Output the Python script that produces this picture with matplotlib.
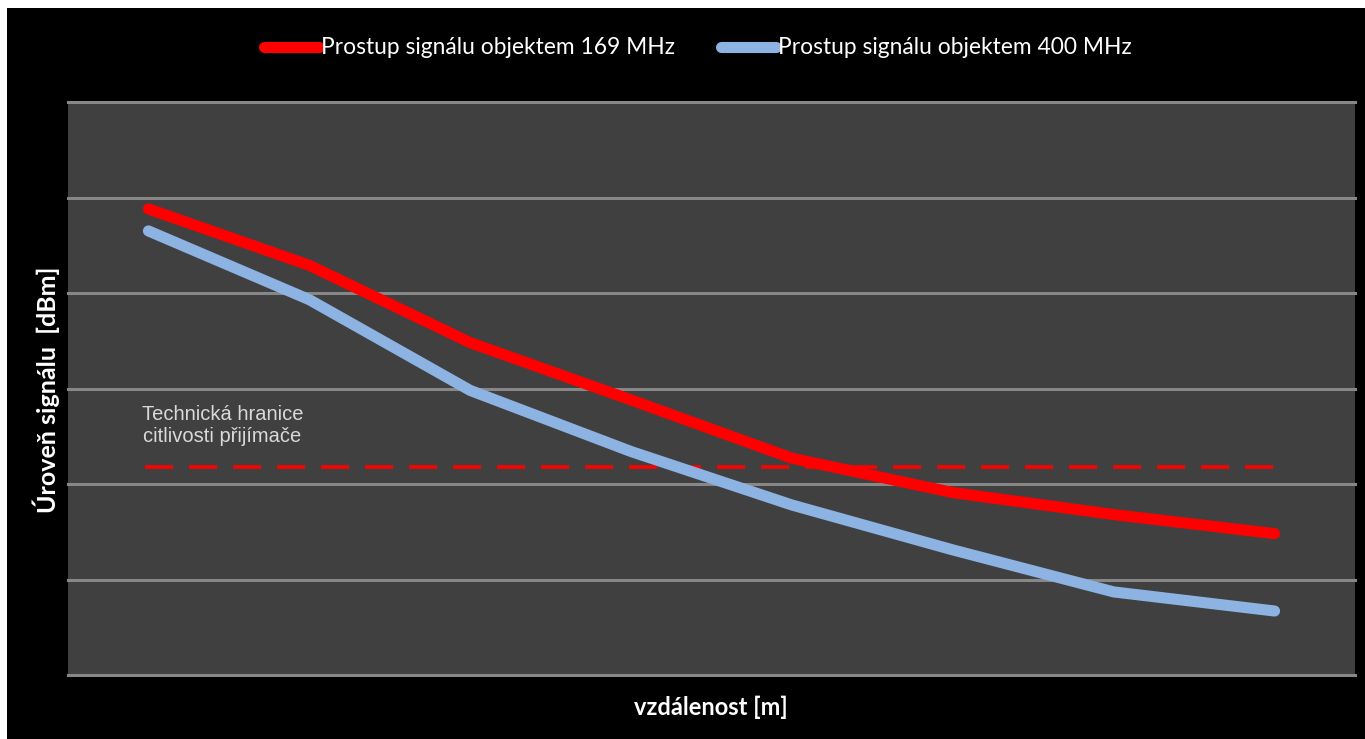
#!/usr/bin/env python3
"""Prostup signálu objektem - úroveň signálu vs. vzdálenost."""
import matplotlib
matplotlib.use("Agg")
import matplotlib.pyplot as plt
from matplotlib.patches import Rectangle

# vzdálenost (osa x nemá popisky, jen pořadí bodů)
vzdalenost = [1, 2, 3, 4, 5, 6, 7, 8]
signal_169 = [-71.2, -77.1, -85.2, -91.2, -97.3, -100.9, -103.2, -105.2]
signal_400 = [-73.5, -80.7, -90.2, -96.6, -102.2, -106.9, -111.3, -113.3]
hranice = -98.2
mrizka = [-120, -110, -100, -90, -80, -70, -60]

W, H = 1365, 739
fig = plt.figure(figsize=(W / 100, H / 100), dpi=100, facecolor="white")
fig.patches.append(Rectangle((7 / W, 0), 1 - 7 / W, (H - 8) / H,
                             transform=fig.transFigure, facecolor="black",
                             edgecolor="none", zorder=-10))

ax = fig.add_axes([68 / W, (H - 675) / H, (1355 - 68) / W, (675 - 102) / H])
ax.set_facecolor("#404040")
for s in ax.spines.values():
    s.set_visible(False)
ax.set_xlim(0.5, 8.5)
ax.set_ylim(-120, -60)
ax.set_xticks([])
ax.set_yticks([])

for g in mrizka:
    ax.axhline(g, color="#878787", lw=2.2, clip_on=False, zorder=1)

ax.hlines(hranice, 0.98, 8.07, colors="#ff0000", lw=2.6,
          linestyles=(0, (28 / 2.6 * 0.72, 16 / 2.6 * 0.72)), zorder=2)

l1, = ax.plot(vzdalenost, signal_169, color="#ff0000", lw=8,
              solid_capstyle="round", solid_joinstyle="round", zorder=4,
              label="Prostup signálu objektem 169 MHz")
l2, = ax.plot(vzdalenost, signal_400, color="#8db3e2", lw=8,
              solid_capstyle="round", solid_joinstyle="round", zorder=3,
              label="Prostup signálu objektem 400 MHz")

ax.text(1.46, -93.9, "Technická hranice\ncitlivosti přijímače",
        ha="center", va="center", color="#d9d9d9", fontsize=14.5,
        family="Liberation Sans", linespacing=1.2, zorder=5)

fig.legend(handles=[l1, l2], loc="center", bbox_to_anchor=(698 / W, 1 - 48 / H),
           ncol=2, frameon=False, handlelength=2.4,
           handletextpad=0.1, columnspacing=2.0, labelcolor="white",
           prop={"family": "Lato", "size": 16.4})

fig.text(711 / W, 1 - 707 / H, "vzdálenost [m]", ha="center", va="center",
         color="white", fontsize=17, fontweight="bold", family="Lato")
fig.text(46 / W, 1 - 390 / H, "Úroveň signálu  [dBm]", ha="center", va="center",
         rotation=90, color="white", fontsize=18, fontweight="bold", family="Lato")

fig.savefig("out.png", dpi=100, facecolor=fig.get_facecolor())
